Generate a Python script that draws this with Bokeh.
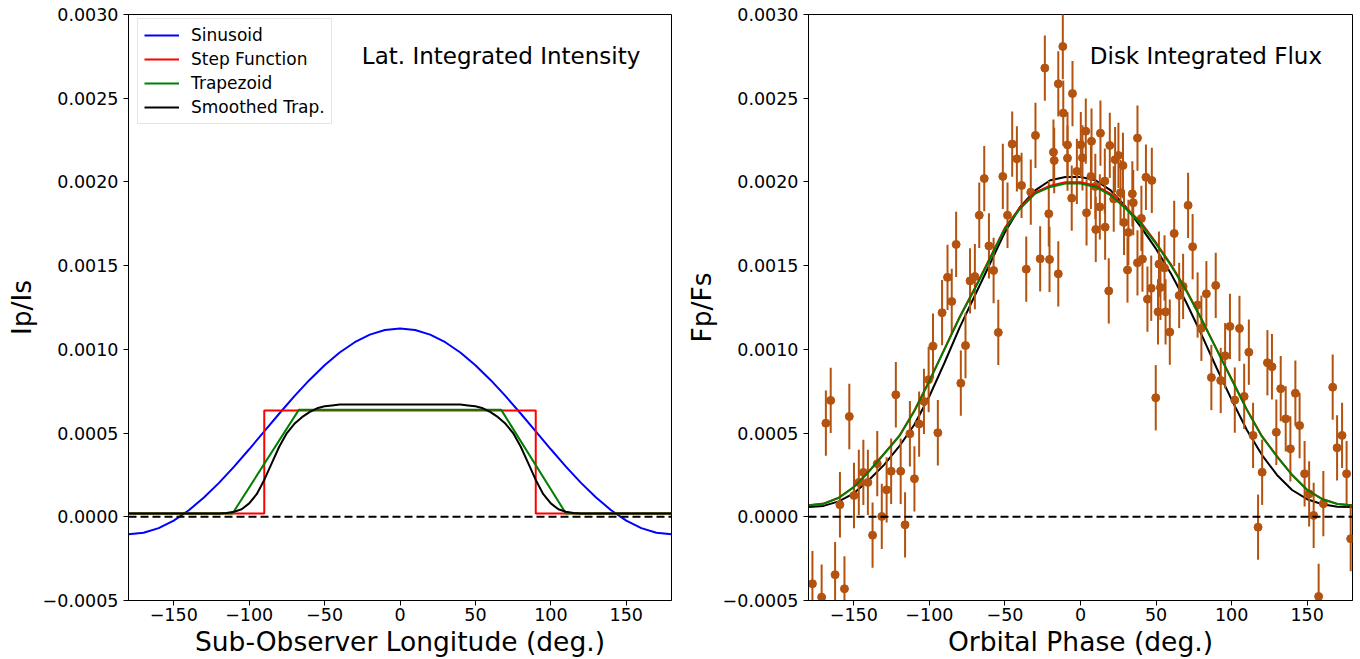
from bokeh.plotting import figure
from bokeh.layouts import row
from bokeh.models import (FixedTicker, CustomJSTickFormatter, Label, Legend,
                          LegendItem, Span, Range1d)
from bokeh.embed import file_html
from bokeh.resources import INLINE

# ---------------- data: left panel ----------------
sin_lon = [-180, -170, -160, -150, -140, -130, -120, -110, -100, -90, -80, -70, -60, -50, -40, -30, -20, -10, 0,
           10, 20, 30, 40, 50, 60, 70, 80, 90, 100, 110, 120, 130, 140, 150, 160, 170, 180]
sin_val = [-0.000105, -0.0000957, -0.0000679, -0.0000226, 0.0000389, 0.0001147, 0.0002025, 0.0002997, 0.0004032,
           0.00051, 0.0006168, 0.0007203, 0.0008175, 0.0009053, 0.0009811, 0.0010426, 0.0010879, 0.0011156, 0.001125,
           0.0011156, 0.0010879, 0.0010426, 0.0009811, 0.0009053, 0.0008175, 0.0007203, 0.0006168, 0.00051,
           0.0004032, 0.0002997, 0.0002025, 0.0001147, 0.0000389, -0.0000226, -0.0000679, -0.0000957, -0.000105]

step_lon = [-180, -90, -90, 90, 90, 180]
step_val = [0.00002, 0.00002, 0.000635, 0.000635, 0.00002, 0.00002]

trap_lon = [-180, -111, -67, 67, 110, 180]
trap_val = [0.00002, 0.00002, 0.00064, 0.00064, 0.00002, 0.00002]

smooth_lon = [-180, -175, -170, -165, -160, -155, -150, -145, -140, -135, -130, -125, -120, -115, -110, -105, -100,
              -95, -90, -85, -80, -75, -70, -65, -60, -55, -50, -45, -40, -35, -30, -25, -20, -15, -10, -5, 0,
              5, 10, 15, 20, 25, 30, 35, 40, 45, 50, 55, 60, 65, 70, 75, 80, 85, 90, 95, 100, 105, 110, 115, 120,
              125, 130, 135, 140, 145, 150, 155, 160, 165, 170, 175, 180]
smooth_val = [0.00002, 0.00002, 0.00002, 0.00002, 0.00002, 0.00002, 0.00002, 0.00002, 0.00002, 0.00002, 0.00002,
              0.00002, 0.00002, 0.000022, 0.00003, 0.000045, 0.00008, 0.000135, 0.00022, 0.00032, 0.00042, 0.0005,
              0.000555, 0.000595, 0.000625, 0.000648, 0.00066, 0.000665, 0.00067, 0.00067, 0.00067, 0.00067,
              0.00067, 0.00067, 0.00067, 0.00067, 0.00067, 0.00067, 0.00067, 0.00067, 0.00067, 0.00067, 0.00067,
              0.00067, 0.00067, 0.000665, 0.00066, 0.000648, 0.000625, 0.000595, 0.000555, 0.0005, 0.00042,
              0.00032, 0.00022, 0.000135, 0.00008, 0.000045, 0.00003, 0.000022, 0.00002, 0.00002, 0.00002,
              0.00002, 0.00002, 0.00002, 0.00002, 0.00002, 0.00002, 0.00002, 0.00002, 0.00002, 0.00002]

# ---------------- data: right panel ----------------
phase = [-177.4, -171.3, -168.5, -165.3, -162.4, -159.2, -156.2, -153.0, -149.9, -146.7,
         -143.7, -140.7, -137.6, -134.5, -131.5, -128.3, -125.3, -122.2, -119.0, -116.1,
         -112.9, -109.9, -106.8, -103.6, -100.5, -97.6, -94.4, -91.6, -88.0, -85.2,
         -82.3, -79.2, -76.1, -73.1, -69.9, -67.0, -63.7, -60.6, -57.5, -54.4,
         -51.4, -48.3, -45.2, -42.1, -39.0, -35.9, -32.9, -29.8, -26.7, -23.6,
         -21.0, -20.5, -17.9, -17.4, -14.7, -14.7, -11.7, -11.4, -8.6, -8.6,
         -5.8, -5.3, -2.4, 0.2, 1.3, 3.5, 4.0, 6.9, 7.3, 9.8,
         10.1, 12.8, 13.2, 16.1, 16.3, 18.7, 19.4, 22.0, 22.9, 25.1,
         26.5, 28.1, 28.8, 31.1, 31.7, 34.3, 34.9, 37.7, 37.7, 40.3,
         41.0, 43.3, 44.3, 46.8, 47.2, 49.8, 51.3, 51.9, 52.9, 55.6,
         56.3, 59.1, 62.0, 65.3, 67.9, 71.2, 74.2, 77.5, 80.0, 83.3,
         86.6, 89.5, 92.8, 95.7, 98.9, 102.1, 105.2, 108.3, 111.4, 114.2,
         117.5, 120.2, 123.7, 126.7, 129.6, 132.5, 135.8, 138.9, 142.2, 145.0,
         148.3, 151.3, 154.3, 157.6, 160.7, 166.9, 169.8, 173.1, 176.1, 178.8]
flux_1e4 = [-4.00, -4.80, 5.59, 6.95, -3.46, 0.72, -4.30, 5.99, 1.27, 2.05,
            2.65, 2.05, -1.10, 3.17, 0.02, 1.61, 2.72, 7.29, 2.72, -0.48,
            4.96, 2.27, 5.54, 6.89, 8.19, 10.19, 5.02, 12.19, 14.30, 12.86,
            16.27, 7.98, 10.23, 14.09, 14.35, 18.01, 20.20, 16.18, 14.71, 11.01,
            20.33, 18.01, 22.26, 21.38, 19.79, 14.79, 19.39, 22.78, 15.41, 26.80,
            18.10, 15.37, 21.78, 21.28, 25.86, 14.51, 28.09, 24.11, 22.21, 21.42,
            19.03, 25.28, 20.63, 22.22, 21.44, 23.03, 18.16, 20.33, 22.43, 19.73,
            17.16, 18.51, 22.91, 20.05, 17.30, 13.49, 22.18, 18.98, 21.33, 21.58,
            19.36, 20.98, 17.58, 14.74, 16.98, 19.29, 18.76, 22.62, 15.17, 17.82,
            15.39, 20.28, 13.00, 13.65, 20.09, 7.11, 12.24, 15.09, 13.70, 14.86,
            12.24, 11.03, 16.92, 13.22, 13.76, 18.60, 16.13, 12.65, 11.26, 13.32,
            8.32, 13.82, 8.14, 9.62, 11.37, 6.97, 11.25, 7.19, 9.83, 4.86,
            -0.62, 2.66, 9.20, 8.96, 5.05, 7.65, 5.85, 4.06, 7.38, 5.45,
            2.57, 1.37, 0.08, -4.76, 0.78, 7.74, 4.12, 4.86, 2.57, -1.31]
flux_err = 0.000195

model_phase = [-180, -170, -160, -150, -140, -130, -120, -110, -100, -90, -80, -70, -60, -50, -40, -30, -20, -10, 0,
               10, 20, 30, 40, 50, 60, 70, 80, 90, 100, 110, 120, 130, 140, 150, 160, 170, 180]
model_step = [0.000069, 0.000079, 0.000114, 0.000178, 0.000272, 0.000377, 0.000483, 0.000633, 0.000813, 0.001003,
              0.001193, 0.001365, 0.001545, 0.001727, 0.001848, 0.001938, 0.001978, 0.001998, 0.001998,
              0.001978, 0.001928, 0.001848, 0.001758, 0.001637, 0.001505, 0.001355, 0.001183, 0.001003,
              0.000823, 0.000643, 0.000483, 0.000362, 0.000251, 0.000161, 0.000106, 0.000077, 0.000069]
model_trap = [0.000068, 0.000078, 0.000113, 0.000177, 0.00027, 0.000375, 0.00048, 0.00063, 0.00081, 0.001,
              0.00119, 0.00136, 0.00154, 0.00172, 0.00184, 0.00193, 0.00197, 0.00199, 0.00199,
              0.00197, 0.00192, 0.00184, 0.00175, 0.00163, 0.0015, 0.00135, 0.00118, 0.001,
              0.00082, 0.00064, 0.00048, 0.00036, 0.00025, 0.00016, 0.000105, 0.000076, 0.000068]
model_smooth = [0.000058, 0.000065, 0.000092, 0.00014, 0.00022, 0.00031, 0.00042, 0.00055, 0.00072, 0.00092,
                0.00113, 0.00132, 0.00151, 0.0017, 0.00185, 0.00195, 0.00201, 0.00203, 0.00203,
                0.00201, 0.00195, 0.00185, 0.00173, 0.0016, 0.00145, 0.00128, 0.00109, 0.00089,
                0.0007, 0.00052, 0.00037, 0.00025, 0.00016, 0.000105, 0.000075, 0.00006, 0.000058]

x_ticks = [-150, -100, -50, 0, 50, 100, 150]
y_ticks = [-0.0005, 0.0, 0.0005, 0.001, 0.0015, 0.002, 0.0025, 0.003]

FONT = "DejaVu Sans"
DATA_COLOR = "#b3530f"


def make_fig(xlabel, ylabel):
    p = figure(width=680, height=659, output_backend="svg", toolbar_location=None,
               x_range=Range1d(-180, 180), y_range=Range1d(-0.0005, 0.003),
               min_border_left=128, min_border_right=8, min_border_top=14, min_border_bottom=59)
    p.background_fill_color = "white"
    p.border_fill_color = "white"
    p.outline_line_color = "black"
    p.outline_line_width = 1
    p.outline_line_alpha = 1
    p.grid.visible = False
    for ax in (p.xaxis[0], p.yaxis[0]):
        ax.axis_line_color = "black"
        ax.major_tick_line_color = "black"
        ax.major_tick_out = 5
        ax.major_tick_in = 0
        ax.minor_tick_line_color = None
        ax.major_label_text_font = FONT
        ax.major_label_text_font_size = "17.5px"
        ax.major_label_text_color = "black"
        ax.axis_label_text_font = FONT
        ax.axis_label_text_font_size = "26.5px"
        ax.axis_label_text_font_style = "normal"
        ax.axis_label_text_color = "black"
    p.xaxis.ticker = FixedTicker(ticks=x_ticks)
    p.yaxis.ticker = FixedTicker(ticks=y_ticks)
    p.xaxis.formatter = CustomJSTickFormatter(
        code="return (tick < 0 ? '\u2212' : '') + Math.abs(tick).toFixed(0);")
    p.yaxis.formatter = CustomJSTickFormatter(
        code="return (tick < -1e-12 ? '\u2212' : '') + Math.abs(tick).toFixed(4);")
    p.xaxis.major_label_standoff = 2
    p.xaxis.axis_label_standoff = 2
    p.yaxis.major_label_standoff = 5
    p.yaxis.axis_label_standoff = 3
    p.xaxis.axis_label = xlabel
    p.yaxis.axis_label = ylabel
    return p


# ---------------- left panel ----------------
p1 = make_fig("Sub-Observer Longitude (deg.)", "Ip/Is")
p1.min_border_right = 9
r_sin = p1.line(sin_lon, sin_val, line_color="blue", line_width=2)
r_step = p1.line(step_lon, step_val, line_color="red", line_width=2)
r_trap = p1.line(trap_lon, trap_val, line_color="green", line_width=2)
r_smooth = p1.line(smooth_lon, smooth_val, line_color="black", line_width=2)
p1.add_layout(Span(location=0, dimension="width", line_color="black", line_width=2, line_dash="8 4"))

legend = Legend(items=[LegendItem(label="Sinusoid", renderers=[r_sin]),
                       LegendItem(label="Step Function", renderers=[r_step]),
                       LegendItem(label="Trapezoid", renderers=[r_trap]),
                       LegendItem(label="Smoothed Trap.", renderers=[r_smooth])],
                location=(9, 476))
legend.border_line_color = "#cccccc"
legend.border_line_width = 1
legend.background_fill_color = "white"
legend.background_fill_alpha = 0.8
legend.label_text_font = FONT
legend.label_text_font_size = "17px"
legend.label_text_color = "black"
legend.padding = 6
legend.spacing = 4
legend.margin = 0
legend.glyph_width = 35
legend.glyph_height = 20
legend.label_height = 20
legend.label_standoff = 12
p1.add_layout(legend)

p1.add_layout(Label(x=67, y=0.00275, text="Lat. Integrated Intensity", text_font=FONT,
                    text_font_size="23px", text_align="center", text_baseline="middle", text_color="black"))

# ---------------- right panel ----------------
p2 = make_fig("Orbital Phase (deg.)", "Fp/Fs")
p2.add_layout(Span(location=0, dimension="width", line_color="black", line_width=2, line_dash="8 4"))
p2.line(model_phase, model_smooth, line_color="black", line_width=2)

flux = [v * 1e-4 for v in flux_1e4]
p2.segment(x0=phase, y0=[f - flux_err for f in flux], x1=phase, y1=[f + flux_err for f in flux],
           line_color=DATA_COLOR, line_width=2)
p2.scatter(phase, flux, size=8, fill_color=DATA_COLOR, line_color=DATA_COLOR, marker="circle")

p2.line(model_phase, model_step, line_color="red", line_width=2)
p2.line(model_phase, model_trap, line_color="green", line_width=2)

p2.add_layout(Label(x=83, y=0.00275, text="Disk Integrated Flux", text_font=FONT,
                    text_font_size="23px", text_align="center", text_baseline="middle", text_color="black"))

layout = row(p1, p2)
open("out.html", "w").write(file_html(layout, INLINE))
